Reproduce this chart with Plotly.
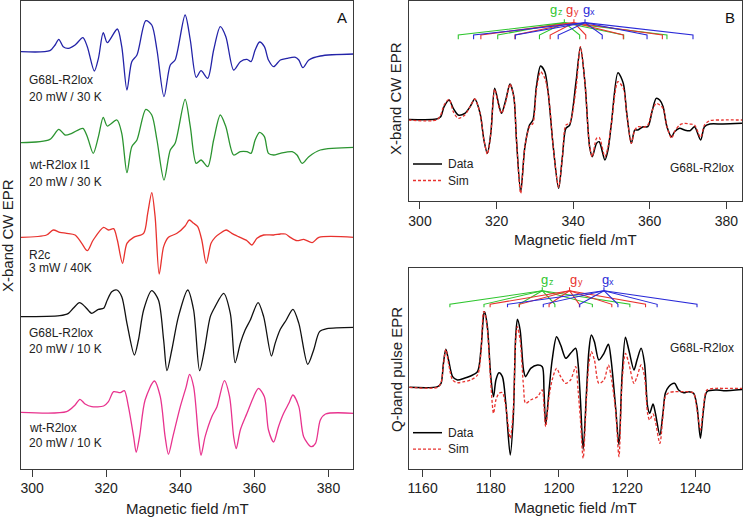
import plotly.graph_objects as go

# ---------------- Panel A : X-band CW EPR (stacked) ----------------
a_blue_field = [297.0, 304.8, 306.2, 307.2, 308.4, 309.8, 311.6, 313.7, 314.9, 316.8, 317.9, 319.2, 320.3, 323.0, 324.2,
                325.6, 326.9, 328.3, 330.7, 332.3, 333.7, 335.6, 337.3, 338.6, 341.3, 342.7, 344.3, 345.6, 347.4, 349.0,
                350.8, 352.3, 354.4, 356.2, 358.0, 359.1, 360.2, 361.4, 362.7, 363.8, 365.2, 367.0, 368.8, 371.1, 372.0,
                373.1, 374.7, 377.8, 387.1]
a_blue_int = [0, 3, 20, 37, 15, 10, 20, 42, 15, -58, -20, 57, 27, 68, 15, -115, -30, -10, 93, 80, 5, -135, -40, -25, 110,
              35, -77, -57, -80, 5, 75, 45, -55, -30, -23, -30, 5, 29, 15, -25, -45, -25, -20, -17, -25, -48, -25, -13, -7]

a_green_field = [297.0, 304.8, 307.2, 308.9, 310.7, 313.7, 314.9, 316.5, 317.9, 319.2, 320.3, 322.9, 324.2, 325.6, 326.9,
                 328.3, 330.7, 332.3, 333.7, 335.6, 337.3, 338.6, 341.3, 342.7, 344.3, 345.6, 347.4, 349.0, 350.8, 352.3,
                 354.4, 356.2, 358.0, 359.1, 360.2, 361.4, 362.7, 363.8, 365.2, 367.0, 370.2, 371.5, 372.9, 374.7, 377.8,
                 387.1]
a_green_int = [0, 10, 40, 23, 28, 43, 18, -32, 18, 76, 50, 68, 28, -90, -12, 8, 100, 83, 8, -112, -22, -2, 130, 48, -62,
               -52, -72, 8, 83, 48, -37, -27, -27, -32, 8, 31, 18, -32, -37, -32, -27, -37, -62, -42, -22, -14]

a_red_field = [297.0, 303.9, 305.7, 307.5, 309.3, 311.6, 313.4, 314.9, 316.5, 319.3, 320.6, 322.0, 323.0, 324.4, 325.6,
               327.4, 330.1, 331.2, 332.3, 333.2, 334.3, 335.5, 336.8, 339.1, 341.3, 342.4, 343.6, 344.7, 345.8, 347.0,
               348.3, 349.4, 350.8, 352.4, 353.9, 355.7, 358.0, 359.3, 360.7, 362.5, 365.2, 367.0, 368.4, 369.7, 371.5,
               373.3, 375.6, 377.4, 387.1]
a_red_int = [0, 7, 22, 15, 12, 7, -18, -40, -8, 30, 22, 26, -8, -78, -18, 0, 12, 72, 134, 62, -110, -28, 0, 12, 34, 52,
             42, 32, -8, -78, -18, 0, 12, 22, 12, 2, -10, -23, -3, 7, 7, 10, 10, 0, -10, -6, -16, 0, 0]

a_black_field = [297.0, 307.5, 309.8, 311.1, 312.8, 314.3, 316.1, 317.9, 319.3, 320.3, 321.5, 322.9, 324.2, 325.6, 327.6,
                 328.7, 330.1, 332.3, 334.1, 335.5, 336.4, 337.7, 339.5, 342.0, 343.6, 345.2, 346.5, 348.1, 349.4, 351.7,
                 353.5, 354.8, 356.2, 357.5, 358.9, 361.0, 362.5, 364.6, 365.6, 367.0, 368.6, 370.4, 372.0, 374.4, 376.0,
                 377.6, 379.6, 387.1]
a_black_int = [0, 3, 10, 25, 42, 30, 10, 22, 25, 50, 75, 80, 60, -20, -115, -70, 20, 78, 50, -70, -162, -100, 0, 80, 20,
               -162, -100, 0, 30, 70, 10, -138, -80, -40, -10, 42, 0, -118, -80, -38, -10, 22, -20, -143, -100, -45, -36,
               -32]

a_pink_field = [297.0, 309.3, 311.6, 312.9, 314.3, 316.1, 319.3, 320.6, 322.0, 323.8, 324.9, 326.0, 327.4, 328.1, 329.0,
                330.5, 333.0, 334.6, 335.9, 336.8, 338.0, 340.0, 341.6, 342.5, 343.6, 344.9, 345.6, 346.7, 348.5, 349.9,
                351.9, 353.3, 354.4, 355.1, 356.2, 358.0, 359.8, 361.1, 362.7, 363.8, 365.2, 366.5, 367.9, 369.3, 370.4,
                372.0, 373.3, 375.3, 376.5, 377.8, 379.2, 387.1]
a_pink_int = [0, 2, 22, 39, 25, 17, 19, 32, 62, 59, 65, 17, -73, -120, -73, 37, 94, 47, -73, -126, -73, 17, 77, 114, 77,
              -73, -129, -73, -13, 17, 95, 47, -73, -109, -53, -3, 47, 72, 47, -53, -89, -43, -3, 27, 52, 17, -73, -103,
              -93, -23, -5, -3]

a_names = ["G68L-R2lox", "wt-R2lox I1", "R2c", "G68L-R2lox", "wt-R2lox"]
a_conditions = ["20 mW / 30 K", "20 mW / 30 K", "3 mW / 40K", "20 mW / 10 K", "20 mW / 10 K"]
a_offsets = [155, 428, 712, 950, 1237]

# ---------------- Panel B (top): X-band data vs simulation ----------------
bx_field = [296.9, 304.3, 305.4, 306.3, 307.6, 308.7, 310.0, 311.7, 313.1, 314.3, 315.7, 316.7, 317.6, 318.5, 319.5,
            320.7, 321.3, 322.4, 323.5, 324.5, 325.2, 326.3, 327.4, 328.6, 329.5, 330.4, 331.5, 332.6, 333.5, 334.8,
            336.2, 337.2, 338.1, 339.1, 340.7, 341.9, 343.1, 344.3, 345.0, 346.1, 346.8, 348.3, 349.1, 350.0, 351.7,
            353.1, 354.0, 355.2, 356.1, 356.9, 358.3, 359.5, 360.7, 361.7, 362.6, 363.5, 364.5, 365.7, 366.5, 367.8,
            369.1, 370.5, 371.7, 373.3, 374.3, 375.7, 379.1, 384.2]
bx_data = [2, 3, 10, 40, 60, 35, 15, 20, 40, 63, 20, -60, -100, -40, 95, 40, 20, 60, 108, 70, -60, -215, -80, -15, 0,
           100, 162, 145, 80, -80, -205, -110, -25, -15, 110, 218, 110, -80, -110, -70, -65, -120, -90, -10, 142, 110,
           20, -70, -30, -30, -20, -20, 30, 65, 60, 40, -20, -50, -35, -25, -30, -32, -20, -60, -20, -12, -12, -10]
bx_sim = [0, 0, 15, 45, 62, 25, 5, 15, 40, 63, 20, -60, -102, -40, 92, 35, 20, 55, 108, 70, -60, -220, -80, -20, -10,
          90, 145, 125, 80, -80, -202, -110, -15, -10, 90, 220, 110, -80, -110, -55, -52, -110, -80, -10, 115, 95, 20,
          -70, -30, -20, -22, -15, 30, 50, 45, 35, -20, -55, -35, -15, -10, -12, -15, -52, -15, -2, 0, 0]

bx_gz_lines = [310.0, 320.3, 331.2, 341.7, 353.2, 364.5]
bx_gy_lines = [315.9, 324.8, 334.0, 343.3, 353.1, 363.3]
bx_gx_lines = [314.0, 324.9, 336.1, 347.6, 359.3, 371.3]
bx_centres = [337.7, 340.2, 343.1]
bx_label_pos = [335.6, 339.7, 344.1]

# ---------------- Panel B (bottom): Q-band pulse data vs simulation ----------------
bq_field = [1156.1, 1164.4, 1165.4, 1166.1, 1166.8, 1167.6, 1168.8, 1170.2, 1172.2, 1174.1, 1176.1, 1177.1, 1177.9,
            1178.2, 1179.0, 1180.0, 1180.8, 1181.5, 1182.4, 1183.4, 1184.4, 1185.7, 1186.6, 1187.3, 1187.8, 1188.6,
            1189.6, 1190.2, 1191.7, 1193.7, 1195.1, 1195.6, 1196.1, 1197.1, 1198.0, 1199.3, 1200.5, 1202.0, 1203.4,
            1204.9, 1205.6, 1206.3, 1207.1, 1208.1, 1208.8, 1209.5, 1210.4, 1211.7, 1213.2, 1214.5, 1215.3, 1216.6,
            1217.6, 1218.5, 1219.5, 1220.5, 1222.0, 1222.9, 1224.1, 1225.1, 1226.0, 1226.6, 1227.6, 1228.3, 1229.6,
            1230.5, 1231.2, 1232.2, 1233.9, 1235.1, 1236.6, 1238.0, 1239.5, 1240.5, 1241.5, 1242.4, 1243.4, 1246.3,
            1248.3, 1254.0]
bq_data = [-2, 0, 10, 70, 112, 80, 30, 20, 25, 32, 45, 110, 215, 225, 180, 30, -30, 20, 42, 30, -50, -205, -90, 150, 202,
           170, 50, 30, 55, 65, 60, -10, -115, -10, 80, 150, 125, 85, 100, 115, 70, -40, -188, -10, 110, 155, 135, 80,
           100, 127, 80, -60, -175, 30, 148, 110, 50, 80, 115, 70, -60, -80, -52, -80, -145, -80, -20, 0, 10, -10, -18,
           -15, -20, -60, -155, -70, -15, -10, -12, -8]
bq_sim = [-2, -2, 12, 65, 112, 70, 20, 12, 15, 20, 35, 100, 225, 222, 170, 10, -80, -40, -20, -18, -60, -155, -70, 140,
          180, 140, 0, -50, -40, -30, -10, -60, -120, -30, 20, 55, 30, 10, 20, 60, -10, -100, -215, -30, 70, 105, 80, 10,
          20, 65, 30, -70, -210, 10, 100, 70, 10, 30, 65, 30, -80, -100, -82, -105, -170, -90, -30, -18, -15, -15, -15,
          -15, -20, -70, -130, -60, -10, -5, -5, -5]

bq_gz_lines = [1168.0, 1178.0, 1188.3, 1198.8, 1209.8, 1220.8]
bq_gy_lines = [1179.8, 1188.4, 1197.1, 1206.0, 1215.5, 1225.4]
bq_gx_lines = [1184.9, 1195.4, 1206.1, 1217.3, 1228.8, 1240.5]
bq_centres = [1195.1, 1203.1, 1213.2]
bq_label_pos = [1196.6, 1205.1, 1214.3]

g_letter = "g"
g_subscripts = ["z", "y", "x"]
legend_names = ["Data", "Sim"]

# ---------------- styling ----------------
FONT = "Liberation Sans, Arial, Helvetica, sans-serif"
a_colors = ["#2323a8", "#2b9430", "#e8322e", "#111111", "#e8338e"]
stick_colors = ["#2fc62f", "#e8322e", "#2a2ad8"]
SIM_RED = "#e8322e"
FRAME = "#3a3a3a"
TXT = "#222222"
W, H = 743, 518


def px_x(p):
    return p / W


def px_y(p):
    return 1 - p / H


fig = go.Figure()

# Panel A traces
a_fields = [a_blue_field, a_green_field, a_red_field, a_black_field, a_pink_field]
a_ints = [a_blue_int, a_green_int, a_red_int, a_black_int, a_pink_int]
for f, v, off, c in zip(a_fields, a_ints, a_offsets, a_colors):
    fig.add_trace(go.Scatter(x=f, y=[val - off for val in v], mode="lines",
                             line=dict(color=c, width=1.3, shape="spline", smoothing=0.8),
                             showlegend=False, xaxis="x", yaxis="y", hoverinfo="skip"))


def stick_trace(centres, groups, levels, xa, ya):
    stem_top, apex_y, top, bot = levels
    for cen, grp, col in zip(centres, groups, stick_colors):
        xs, ys = [cen, cen, None], [stem_top, apex_y, None]
        for s in grp:
            xs += [cen, s, s, None]
            ys += [apex_y, top, bot, None]
        fig.add_trace(go.Scatter(x=xs, y=ys, mode="lines", line=dict(color=col, width=1.1),
                                 showlegend=False, xaxis=xa, yaxis=ya, hoverinfo="skip"))


# Panel B top
stick_trace(bx_centres, [bx_gz_lines, bx_gy_lines, bx_gx_lines], (302, 292, 255, 242), "x2", "y2")
fig.add_trace(go.Scatter(x=bx_field, y=bx_data, mode="lines", name=legend_names[0], showlegend=False,
                         line=dict(color="black", width=1.5, shape="spline", smoothing=0.8),
                         xaxis="x2", yaxis="y2"))
fig.add_trace(go.Scatter(x=bx_field, y=bx_sim, mode="lines", name=legend_names[1], showlegend=False,
                         line=dict(color=SIM_RED, width=1.3, dash="3px,2px", shape="spline", smoothing=0.8),
                         xaxis="x2", yaxis="y2"))

# Panel B bottom
stick_trace(bq_centres, [bq_gz_lines, bq_gy_lines, bq_gx_lines], (298, 288, 247, 238), "x3", "y3")
fig.add_trace(go.Scatter(x=bq_field, y=bq_data, mode="lines", name=legend_names[0], showlegend=False,
                         line=dict(color="black", width=1.5, shape="spline", smoothing=0.8),
                         xaxis="x3", yaxis="y3"))
fig.add_trace(go.Scatter(x=bq_field, y=bq_sim, mode="lines", name=legend_names[1], showlegend=False,
                         line=dict(color=SIM_RED, width=1.3, dash="3px,2px", shape="spline", smoothing=0.8),
                         xaxis="x3", yaxis="y3"))

xa_common = dict(showline=True, linecolor=FRAME, linewidth=1, mirror=True, showgrid=False, zeroline=False,
                 ticks="outside", ticklen=7, tickcolor=FRAME, tickwidth=1,
                 tickfont=dict(size=14, family=FONT, color=TXT))
ya_common = dict(showline=True, linecolor=FRAME, linewidth=1, mirror=True, showgrid=False, zeroline=False,
                 showticklabels=False, ticks="")

x_ticks = [300, 320, 340, 360, 380]
q_ticks = [1160, 1180, 1200, 1220, 1240]

# legend keys (drawn as small line samples in the panel corner)
shapes = []
for y_top in [164, 432.7]:
    shapes.append(dict(type="line", xref="paper", yref="paper", x0=px_x(413), x1=px_x(442),
                       y0=px_y(y_top), y1=px_y(y_top), line=dict(color="black", width=1.5)))
    shapes.append(dict(type="line", xref="paper", yref="paper", x0=px_x(413), x1=px_x(442),
                       y0=px_y(y_top + 16.5), y1=px_y(y_top + 16.5),
                       line=dict(color=SIM_RED, width=1.3, dash="3px,2px")))

fig.update_layout(
    width=W, height=H, margin=dict(l=0, r=0, t=0, b=0),
    paper_bgcolor="white", plot_bgcolor="white", showlegend=False,
    font=dict(family=FONT, color=TXT),
    xaxis=dict(domain=[px_x(21), px_x(353.3)], range=[297.0, 386.7], anchor="y", tickvals=x_ticks, **xa_common),
    xaxis4=dict(overlaying="x", anchor="y", side="top", range=[297.0, 386.7], tickvals=x_ticks,
                ticks="inside", ticklen=7, tickcolor=FRAME, showticklabels=False, showgrid=False,
                zeroline=False, showline=False),
    yaxis=dict(domain=[px_y(468.5), px_y(1)], range=[-1405.5, -3], anchor="x", **ya_common),
    xaxis2=dict(domain=[px_x(409), px_x(742)], range=[297.13, 384.1], anchor="y2", tickvals=x_ticks, **xa_common),
    yaxis2=dict(domain=[px_y(200.7), px_y(1)], range=[-242, 357], anchor="x2", **ya_common),
    xaxis3=dict(domain=[px_x(409), px_x(742)], range=[1156.0, 1253.7], anchor="y3", tickvals=q_ticks, **xa_common),
    yaxis3=dict(domain=[px_y(468.5), px_y(268)], range=[-245.5, 356], anchor="x3", **ya_common),
    shapes=shapes,
)

ann = []


def text(t, x, y, size=12, xanchor="center", angle=0, color=TXT, xref="paper", yref="paper", xshift=0, yshift=0):
    ann.append(dict(text=t, x=x, y=y, xref=xref, yref=yref, xanchor=xanchor, yanchor="middle",
                    textangle=angle, showarrow=False, xshift=xshift, yshift=yshift,
                    font=dict(size=size, family=FONT, color=color)))


# Panel A labels
label_rows = [(80, 96.7), (165, 181.7), (255, 268.3), (333.3, 349.3), (427.7, 442.7)]
for (y1, y2), name, cond in zip(label_rows, a_names, a_conditions):
    text(name, px_x(26.5), px_y(y1), xanchor="left")
    text(cond, px_x(26.5), px_y(y2), xanchor="left")

# legends text
for y_top in [164, 432.7]:
    text(legend_names[0], px_x(446), px_y(y_top), xanchor="left")
    text(legend_names[1], px_x(446), px_y(y_top + 16.5), xanchor="left")

# panel letters
text("A", px_x(342), px_y(17), size=15, color="#111")
text("B", px_x(730), px_y(17), size=15, color="#111")

# axis titles
for xc, yc in [(187, 508), (575.5, 240), (575.5, 507)]:
    text("Magnetic field /mT", px_x(xc), px_y(yc), size=15)
for xc, yc, t in [(7, 236, "X-band CW EPR"), (396, 99, "X-band CW EPR"), (396, 370, "Q-band pulse EPR")]:
    text(t, px_x(xc), px_y(yc), size=15, angle=-90)

# sample names in B
for yc in [168, 348]:
    text("G68L-R2lox", px_x(736), px_y(yc), xanchor="right")

# g labels (letter + small subscript)
for positions, yv, xa, ya in [(bx_label_pos, 332, "x2", "y2"), (bq_label_pos, 322, "x3", "y3")]:
    for sub, xv, col in zip(g_subscripts, positions, stick_colors):
        text(g_letter, xv, yv, size=13, color=col, xref=xa, yref=ya, xshift=-2.5)
        text(sub, xv, yv, size=9, color=col, xref=xa, yref=ya, xshift=4, yshift=-3)

fig.update_layout(annotations=ann)
fig.write_html("out.html", config={"displayModeBar": False},
               post_script="document.body.style.margin='0';document.body.style.padding='0';")
